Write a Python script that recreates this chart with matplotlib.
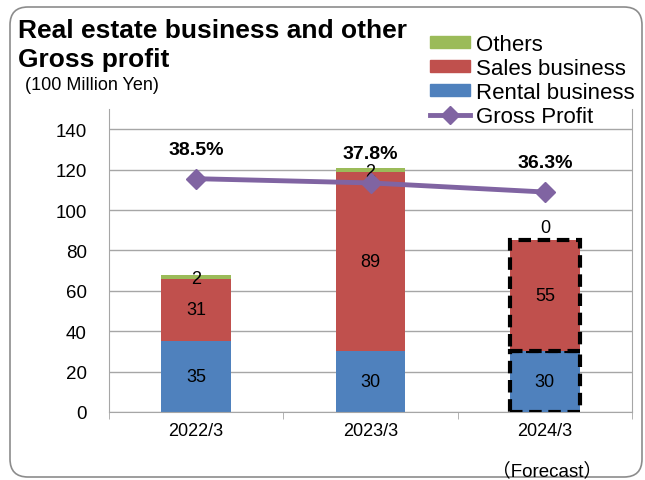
import matplotlib.pyplot as plt
from matplotlib.patches import FancyBboxPatch, Patch
from matplotlib.lines import Line2D


#################### Data

years = ['2022/3', '2023/3', '2024/3']
rental = [35, 30, 30]
sales = [31, 89, 55]
others = [2, 2, 0]
margin = [38.5, 37.8, 36.3]   # gross profit margin (%)


#################### Style

plt.rcParams['font.family'] = ['Liberation Sans', 'DejaVu Sans']

c_rental = '#4F81BD'
c_sales = '#C0504D'
c_others = '#9BBB59'
c_line = '#8064A2'
c_grid = '#A6A6A6'

W, H = 645, 481
fig = plt.figure(figsize=(W / 100, H / 100), dpi=100)

# rounded frame round the whole panel (pixel coordinates)
frame = FancyBboxPatch((10, 3), 632, 470, boxstyle='round,pad=0,rounding_size=18',
                       transform=None, facecolor='none', edgecolor='#8C8C8C', linewidth=1.2)
fig.patches.append(frame)

ax = fig.add_axes((109 / W, (H - 413) / H, 523 / W, 303 / H))
x = list(range(len(years)))
bw = 0.4

bottom_sales = rental
bottom_others = [r + s for r, s in zip(rental, sales)]

bars_r = ax.bar(x, rental, bw, color=c_rental, zorder=2)
bars_s = ax.bar(x, sales, bw, bottom=bottom_sales, color=c_sales, zorder=2)
bars_o = ax.bar(x, others, bw, bottom=bottom_others, color=c_others, zorder=2)

# forecast year gets a dashed outline
for b in (bars_r[2], bars_s[2]):
    b.set_edgecolor('black')
    b.set_linewidth(3)
    b.set_linestyle((0, (3, 1.6)))
    b.set_zorder(3)

# segment labels
lab = 13
for i in x:
    ax.text(i, rental[i] / 2, str(rental[i]), ha='center', va='center', fontsize=lab)
    ax.text(i, bottom_sales[i] + sales[i] / 2, str(sales[i]), ha='center', va='center', fontsize=lab)
    if others[i] > 0:
        ax.text(i, bottom_others[i] + others[i] / 2 - 0.8, str(others[i]), ha='center', va='center', fontsize=lab)
    else:
        ax.text(i, bottom_others[i] + 6.5, str(others[i]), ha='center', va='center', fontsize=lab)

ax.set_xlim(-0.5, 2.5)
ax.set_ylim(0, 150)
ax.set_yticks(range(0, 141, 20))
ax.set_xticks(x)
ax.set_xticklabels(years, fontsize=13)
ax.tick_params(axis='y', labelsize=13.5, length=0, pad=16)
ax.tick_params(axis='x', length=0, pad=7)
ax.set_xticks([-0.5, 0.5, 1.5, 2.5], minor=True)
ax.tick_params(axis='x', which='minor', length=5, color=c_grid)
ax.yaxis.grid(True, color=c_grid, linewidth=1)
ax.set_axisbelow(True)
for s in ('left', 'right', 'bottom'):
    ax.spines[s].set_color(c_grid)
ax.spines['top'].set_visible(False)

# gross profit margin on a hidden secondary scale
ax2 = ax.twinx()
ax2.set_ylim(0, 50)
ax2.plot(x, margin, color=c_line, linewidth=3.5, marker='D', markersize=10, zorder=4)
for i in x:
    ax2.annotate(f'{margin[i]}%', (i, margin[i]), xytext=(0, 21), textcoords='offset points',
                 ha='center', va='center', fontsize=14, fontweight='bold')
ax2.set_yticks([])
for s in ax2.spines.values():
    s.set_visible(False)

# titles and notes
fig.text(18 / W, 1 - 38 / H, 'Real estate business and other', fontsize=19,
         fontweight='bold', ha='left', va='baseline')
fig.text(18 / W, 1 - 67 / H, 'Gross profit', fontsize=19,
         fontweight='bold', ha='left', va='baseline')
fig.text(25 / W, 1 - 86 / H, '(100 Million Yen)', fontsize=13, ha='left', va='center')
fig.text(547 / W, 1 - 471 / H, '（Forecast）', fontsize=13.5, ha='center', va='center',
         family=['Liberation Sans', 'Noto Sans CJK JP'])

handles = [Patch(color=c_others), Patch(color=c_sales), Patch(color=c_rental),
           Line2D([], [], color=c_line, linewidth=3.5, marker='D', markersize=9)]
labels = ['Others', 'Sales business', 'Rental business', 'Gross Profit']
fig.legend(handles, labels, loc='upper left', bbox_to_anchor=(430 / W, 1 - 35 / H),
           frameon=False, fontsize=16, handlelength=1.8, handleheight=0.45,
           handletextpad=0.27, labelspacing=0.13, borderaxespad=0, borderpad=0)

fig.savefig('out.png', dpi=100)
